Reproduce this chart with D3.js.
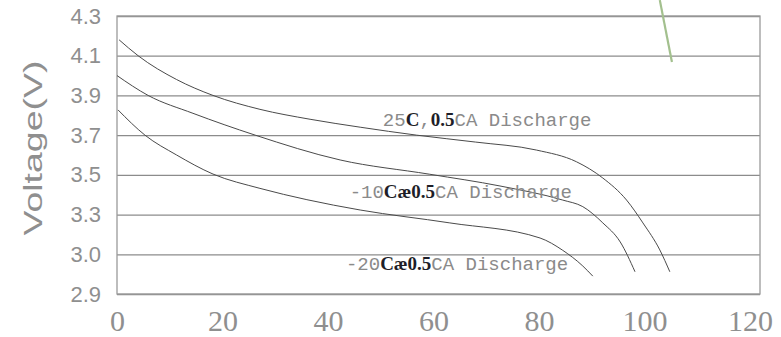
<!DOCTYPE html>
<html>
<head>
<meta charset="utf-8">
<script src="https://cdn.jsdelivr.net/npm/d3@7"></script>
<style>
  body { margin: 0; background: #fff; }
  svg { display: block; }
</style>
</head>
<body>
<div id="chart"></div>
<script>
// ticks
const xTicks = [0, 20, 40, 60, 80, 100, 120];
const yTicks = [2.9, 3.1, 3.3, 3.5, 3.7, 3.9, 4.1, 4.3];
const yTickLabels = ["2.9", "3.0", "3.3", "3.5", "3.7", "3.9", "4.1", "4.3"];

// courbes de décharge [capacité, tension]
const curve25 = [[0.4, 4.18], [4.0, 4.10], [11.3, 3.98], [18.2, 3.90], [27.1, 3.83], [36.6, 3.78],
  [46.1, 3.74], [56.8, 3.70], [68.0, 3.665], [79.5, 3.625], [87.1, 3.566], [92.1, 3.484],
  [96.6, 3.373], [99.7, 3.258], [102.9, 3.122], [104.8, 3.012]];
const curveM10 = [[0, 4.0], [5.9, 3.90], [14.4, 3.81], [26.2, 3.70], [42.3, 3.575], [59.3, 3.503],
  [72.6, 3.444], [84.5, 3.373], [88.3, 3.34], [92.1, 3.258], [95.4, 3.162], [98.2, 3.012]];
const curveM20 = [[0.2, 3.827], [5.3, 3.70], [11.3, 3.60], [18.2, 3.504], [27.1, 3.432], [36.0, 3.375],
  [46.1, 3.323], [63.1, 3.258], [80.2, 3.182], [84.5, 3.12], [88.3, 3.041], [90.2, 2.99]];
const strayLine = [[102.9, 4.38], [105.2, 4.068]];

const labels = [
  { x: 50.4, y: 3.744, parts: [["25", 0], ["C", 1], [",", 0], ["0.5", 1], ["CA Discharge", 0]] },
  { x: 44.1, y: 3.383, parts: [["-10", 0], ["Cæ", 1], ["0.5", 1], ["CA Discharge", 0]] },
  { x: 43.4, y: 3.019, parts: [["-20", 0], ["Cæ", 1], ["0.5", 1], ["CA Discharge", 0]] }
];

const width = 781, height = 337;
const margin = { top: 16, right: 21, bottom: 43, left: 117 };

const svg = d3.select("#chart").append("svg")
  .attr("width", width)
  .attr("height", height);

const x = d3.scaleLinear().domain([0, 120]).range([margin.left, 750]);
const y = d3.scaleLinear().domain([2.9, 4.3]).range([height - margin.bottom, margin.top]);

// grille horizontale
const grid = svg.append("g")
  .attr("transform", `translate(${margin.left},0)`)
  .call(d3.axisLeft(y).tickValues(yTicks).tickSize(-(width - margin.right - margin.left)).tickFormat(""));
grid.select(".domain").remove();
grid.selectAll("line").attr("stroke", "#8c8c8c").attr("stroke-width", 1.3);

// cadre
svg.append("rect")
  .attr("x", margin.left)
  .attr("y", margin.top)
  .attr("width", width - margin.right - margin.left)
  .attr("height", height - margin.bottom - margin.top)
  .attr("fill", "none")
  .attr("stroke", "#9a9a9a")
  .attr("stroke-width", 1.3);

// axe Y
const yAxis = svg.append("g")
  .attr("transform", `translate(${margin.left},0)`)
  .call(d3.axisLeft(y).tickValues(yTicks).tickSize(0).tickPadding(16)
    .tickFormat((d, i) => yTickLabels[i]));
yAxis.select(".domain").remove();
yAxis.selectAll("text")
  .attr("font-family", "Liberation Sans")
  .attr("font-size", 22)
  .attr("fill", "#8f8f8f");

// axe X
const xAxis = svg.append("g")
  .attr("transform", `translate(0,${height - margin.bottom})`)
  .call(d3.axisBottom(x).tickValues(xTicks).tickSize(0).tickPadding(16));
xAxis.select(".domain").remove();
xAxis.selectAll("text")
  .attr("font-family", "Liberation Sans Narrow")
  .attr("font-size", 30)
  .attr("fill", "#8f8f8f");

// titre axe Y
svg.append("text")
  .attr("transform", "translate(42,148) rotate(-90)")
  .attr("text-anchor", "middle")
  .attr("font-family", "Liberation Sans")
  .attr("font-size", 26)
  .attr("fill", "#8f8f8f")
  .attr("textLength", 175)
  .attr("lengthAdjust", "spacingAndGlyphs")
  .text("Voltage(V)");

// courbes
const line = d3.line()
  .x(d => x(d[0]))
  .y(d => y(d[1]))
  .curve(d3.curveMonotoneX);

[curve25, curveM10, curveM20].forEach(c => {
  svg.append("path")
    .datum(c)
    .attr("fill", "none")
    .attr("stroke", "#4a4a4a")
    .attr("stroke-width", 1)
    .attr("d", line);
});

svg.append("path")
  .datum(strayLine)
  .attr("fill", "none")
  .attr("stroke", "#a3c08e")
  .attr("stroke-width", 2.2)
  .attr("d", d3.line().x(d => x(d[0])).y(d => y(d[1])));

// étiquettes des courbes
labels.forEach(l => {
  const t = svg.append("text")
    .attr("x", x(l.x))
    .attr("y", y(l.y));
  l.parts.forEach(([s, bold]) => {
    t.append("tspan")
      .attr("font-family", bold ? "Liberation Serif" : "Liberation Mono")
      .attr("font-weight", bold ? "bold" : "normal")
      .attr("font-size", 19)
      .attr("fill", bold ? "#1e1e28" : "#8a8a8a")
      .text(s);
  });
});
</script>
</body>
</html>
